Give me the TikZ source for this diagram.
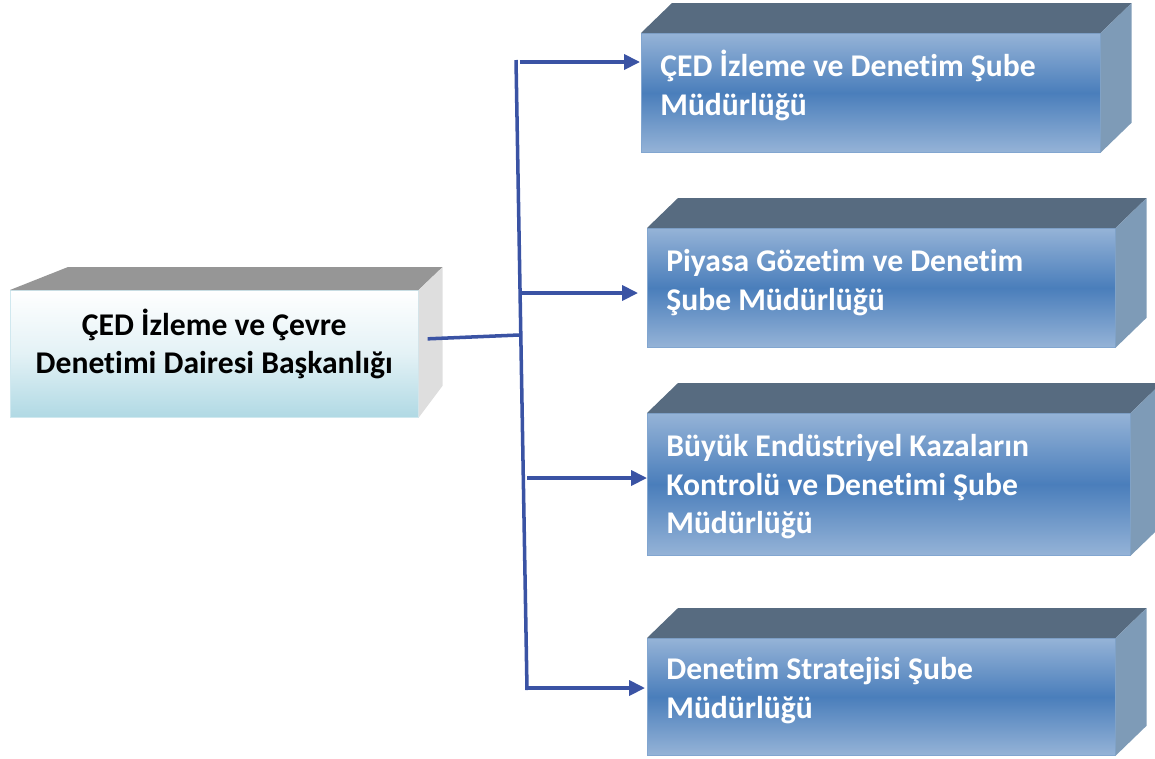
\documentclass[tikz,border=0pt]{standalone}
\usepackage{fontspec}
\setmainfont{Carlito}[Ligatures=NoCommon]
\usepackage{tikz}
\usetikzlibrary{arrows.meta}

\definecolor{linkblue}{RGB}{58,83,164}
\definecolor{frontlight}{RGB}{149,179,215}
\definecolor{frontdark}{RGB}{74,126,187}
\definecolor{topslate}{RGB}{87,107,128}
\definecolor{sideslate}{RGB}{126,155,183}
\definecolor{chiefcyan}{RGB}{176,217,228}
\definecolor{chieftop}{RGB}{150,150,150}
\definecolor{chiefside}{RGB}{222,222,222}

\begin{document}
\begin{tikzpicture}[x=0.02cm,y=-0.02cm,
        font=\bfseries\fontsize{18}{22}\selectfont,
        chief/.style={anchor=north west,align=center,inner sep=0pt,
            top color=white,bottom color=chiefcyan,middle color=white!65!chiefcyan,
            draw=chiefcyan!60!white,thin,minimum width=8.16cm,minimum height=2.54cm},
        branch/.style={anchor=north west,align=flush left,text=white,inner xsep=0.38cm,
            top color=frontlight,bottom color=frontlight,middle color=frontdark,
            draw=frontlight!75!frontdark,thin,text width=#1,text height=0pt},
        link/.style={draw=linkblue,line width=2pt},
        tip/.style={link,-{Triangle[length=9pt,width=8.5pt]}}]

    \useasboundingbox (0,0) rectangle (1155,758);

    % head office, left
    \node[chief,text depth=0.5cm] (daire) at (10,290) {ÇED İzleme ve Çevre\\Denetimi Dairesi Başkanlığı};
    \fill[chieftop] (daire.north west) -- ++(58,-23) -- ([shift={(24,-23)}]daire.north east) -- (daire.north east) -- cycle;
    \fill[chiefside] (daire.north east) -- ++(24,-23) -- ([shift={(24,-32)}]daire.south east) -- (daire.south east) -- cycle;

    % branch offices, right
    \node[branch=8.42cm,minimum height=2.38cm,text depth=0.66cm] (ced) at (641,33) {ÇED İzleme ve Denetim Şube\\Müdürlüğü};
    \node[branch=8.60cm,minimum height=2.38cm,text depth=0.66cm] (piyasa) at (647,228) {Piyasa Gözetim ve Denetim\\Şube Müdürlüğü};
    \node[branch=8.90cm,minimum height=2.84cm,text depth=1.12cm] (kaza) at (647,413) {Büyük Endüstriyel Kazaların\\Kontrolü ve Denetimi Şube\\Müdürlüğü};
    \node[branch=8.60cm,minimum height=2.34cm,text depth=0.7cm] (strateji) at (647,638) {Denetim Stratejisi Şube\\Müdürlüğü};

    \foreach \b in {ced,piyasa,kaza,strateji}{
        \fill[topslate] (\b.north west) -- ++(31,-30) -- ([shift={(31,-30)}]\b.north east) -- (\b.north east) -- cycle;
        \fill[sideslate] (\b.north east) -- ++(31,-30) -- ([shift={(31,-30)}]\b.south east) -- (\b.south east) -- cycle;
    }

    % connectors
    \coordinate (hub) at (519,335);
    \coordinate (spinetop) at (516,60);
    \coordinate (spinebot) at (527,690);
    \coordinate (s1) at (520,62);
    \coordinate (s2) at (522,293);
    \coordinate (s3) at (527,478);
    \coordinate (s4) at (527,688);

    \draw[link] ([shift={(9,-15)}]daire.east) -- (hub);
    \draw[link] (spinetop) -- (spinebot);
    \draw[tip,shorten >=0.02cm] (s1) -- (s1 -| ced.west);
    \draw[tip,shorten >=0.18cm] (s2) -- (s2 -| piyasa.west);
    \draw[tip] (s3) -- (s3 -| kaza.west);
    \draw[tip,shorten >=0.04cm] (s4) -- (s4 -| strateji.west);
\end{tikzpicture}
\end{document}
